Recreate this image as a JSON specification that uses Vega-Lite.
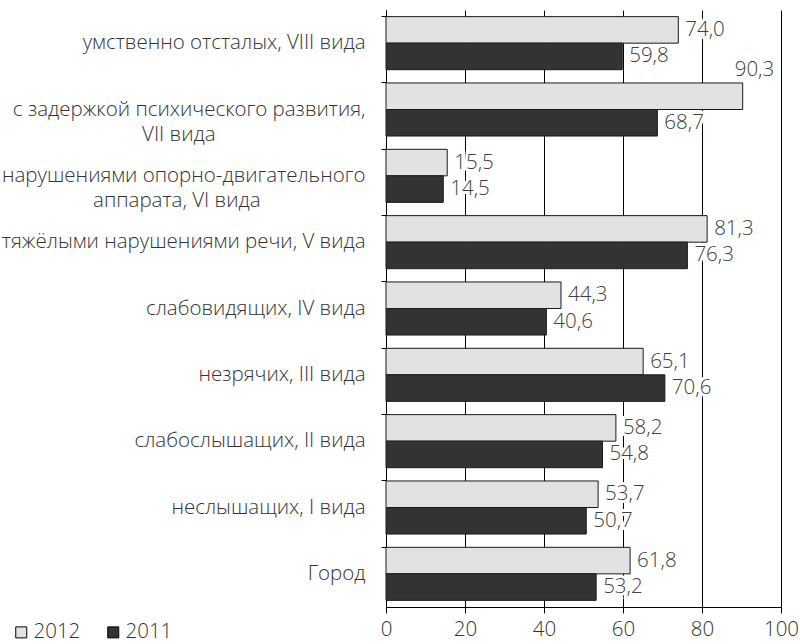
{
  "$schema": "https://vega.github.io/schema/vega-lite/v6.json",
  "autosize": "none",
  "width": 395,
  "height": 597,
  "padding": {"left": 386, "top": 10, "right": 19, "bottom": 37},
  "background": "white",
  "config": {
    "view": {"stroke": null},
    "font": "Open Sans",
    "locale": {"number": {"decimal": ",", "thousands": " ", "grouping": [3], "currency": ["", ""]}},
    "axis": {"labelFont": "Open Sans", "labelFontWeight": 300, "labelColor": "#333333", "labelFontSize": 20.5},
    "legend": {"labelFont": "Open Sans", "labelFontWeight": 300}
  },
  "data": {
    "values": [
      {"cat": "умственно отсталых, VIII вида", "year": "2012", "value": 74.0},
      {"cat": "умственно отсталых, VIII вида", "year": "2011", "value": 59.8},
      {"cat": "с задержкой психического развития,|VII вида", "year": "2012", "value": 90.3},
      {"cat": "с задержкой психического развития,|VII вида", "year": "2011", "value": 68.7},
      {"cat": "с нарушениями опорно-двигательного|аппарата, VI вида", "year": "2012", "value": 15.5},
      {"cat": "с нарушениями опорно-двигательного|аппарата, VI вида", "year": "2011", "value": 14.5},
      {"cat": "с тяжёлыми нарушениями речи, V вида", "year": "2012", "value": 81.3},
      {"cat": "с тяжёлыми нарушениями речи, V вида", "year": "2011", "value": 76.3},
      {"cat": "слабовидящих, IV вида", "year": "2012", "value": 44.3},
      {"cat": "слабовидящих, IV вида", "year": "2011", "value": 40.6},
      {"cat": "незрячих, III вида", "year": "2012", "value": 65.1},
      {"cat": "незрячих, III вида", "year": "2011", "value": 70.6},
      {"cat": "слабослышащих, II вида", "year": "2012", "value": 58.2},
      {"cat": "слабослышащих, II вида", "year": "2011", "value": 54.8},
      {"cat": "неслышащих, I вида", "year": "2012", "value": 53.7},
      {"cat": "неслышащих, I вида", "year": "2011", "value": 50.7},
      {"cat": "Город", "year": "2012", "value": 61.8},
      {"cat": "Город", "year": "2011", "value": 53.2}
    ]
  },
  "encoding": {
    "y": {
      "field": "cat", "type": "nominal", "sort": null,
      "scale": {"paddingInner": 0.2, "paddingOuter": 0.1},
      "axis": {
        "title": null, "domainColor": "#000000", "tickColor": "#000000", "tickSize": 5,
        "bandPosition": 0, "labelPadding": 16, "labelLineHeight": 25, "labelLimit": 0, "labelAlign": "right",
        "labelExpr": "indexof(datum.label, '|') >= 0 ? [split(datum.label, '|')[0], split(datum.label, '|')[1] + (indexof(datum.label, 'задержкой') >= 0 ? '\u2800\u2800\u2800\u2800\u2800\u2800\u2800\u2800\u2800\u2800' : '\u2800\u2800\u2800\u2800\u2800\u2800\u2800')] : datum.label"
      }
    },
    "yOffset": {"field": "year", "type": "nominal", "sort": ["2012", "2011"], "scale": {"paddingInner": 0, "paddingOuter": 0}},
    "x": {
      "field": "value", "type": "quantitative",
      "scale": {"domain": [0, 100], "nice": false},
      "axis": {
        "title": null, "values": [0, 20, 40, 60, 80, 100], "grid": true, "gridColor": "#000000", "gridWidth": 1, "gridOpacity": 1,
        "domainColor": "#000000", "tickColor": "#000000", "tickSize": 6, "labelPadding": 6, "labelFlush": false
      }
    }
  },
  "layer": [
    {
      "mark": {"type": "bar", "stroke": "#1a1a1a", "strokeWidth": 1},
      "encoding": {
        "color": {
          "field": "year", "type": "nominal",
          "scale": {"domain": ["2012", "2011"], "range": ["#e2e2e2", "#333333"]},
          "legend": {
            "title": null, "orient": "none", "legendX": -375, "legendY": 612, "direction": "horizontal",
            "symbolType": "square", "symbolSize": 121, "symbolStrokeColor": "#000000", "symbolStrokeWidth": 1,
            "labelFontSize": 20.5, "labelColor": "#333333", "columnPadding": 22, "labelOffset": 2
          }
        }
      }
    },
    {
      "transform": [{"filter": "datum.value < 85"}],
      "mark": {"type": "text", "align": "left", "baseline": "middle", "dx": 7, "fontSize": 20.5, "fontWeight": 300, "fill": "white", "stroke": "white", "strokeWidth": 6},
      "encoding": {"text": {"field": "value", "type": "quantitative", "format": ".1f"}}
    },
    {
      "transform": [{"filter": "datum.value < 85"}],
      "mark": {"type": "text", "align": "left", "baseline": "middle", "dx": 7, "fontSize": 20.5, "fontWeight": 300, "fill": "#404040"},
      "encoding": {"text": {"field": "value", "type": "quantitative", "format": ".1f"}}
    },
    {
      "transform": [{"filter": "datum.value >= 85"}],
      "mark": {"type": "text", "align": "left", "baseline": "middle", "dx": -8, "dy": -26, "fontSize": 20.5, "fontWeight": 300, "fill": "#404040"},
      "encoding": {"text": {"field": "value", "type": "quantitative", "format": ".1f"}}
    }
  ]
}
